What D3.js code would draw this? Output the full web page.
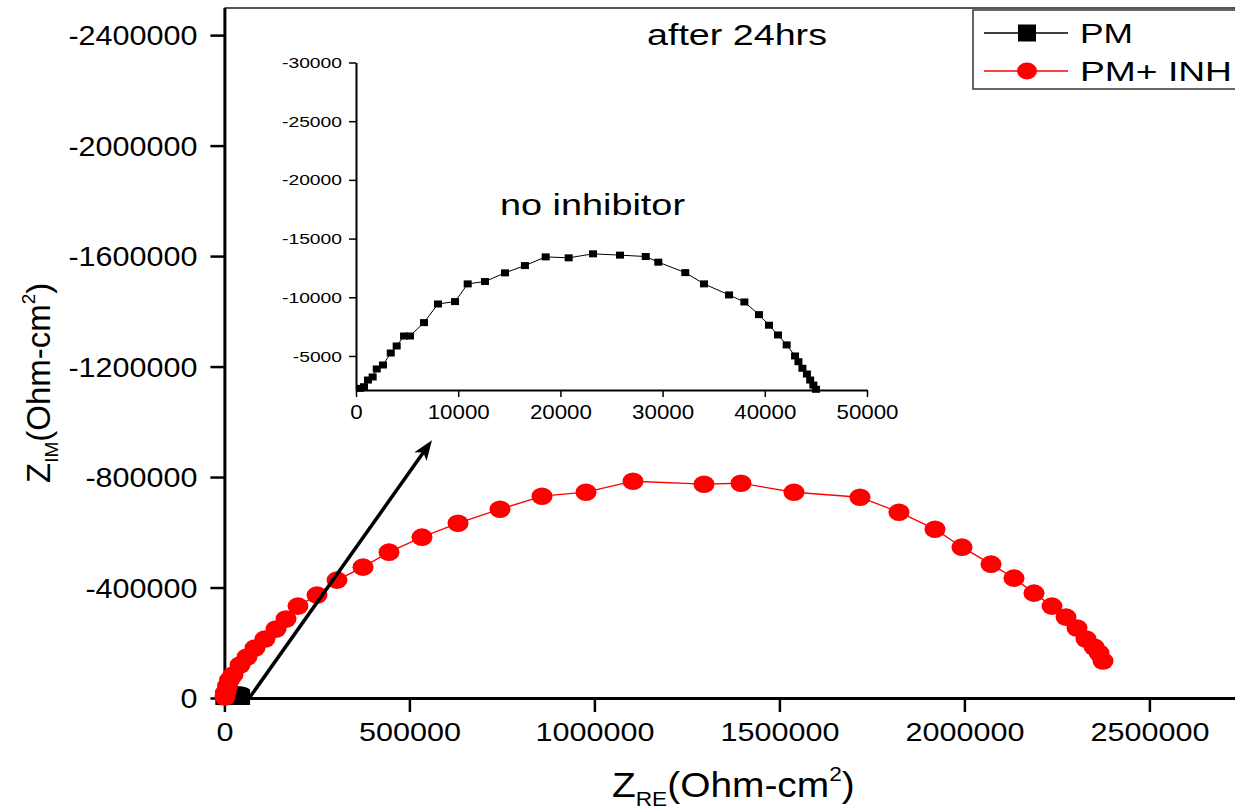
<!DOCTYPE html>
<html>
<head>
<meta charset="utf-8">
<script src="https://cdn.jsdelivr.net/npm/d3@7"></script>
<style>
  body { margin: 0; background: #fff; }
  svg { display: block; font-family: "Liberation Sans", Arial, sans-serif; }
</style>
</head>
<body>
<script>
// PM + INH (red circles, main plot)
const inhZre = [1600, 4300, 8400, 13800, 23200, 42200, 61100, 82700, 109700, 139500,
  166500, 198900, 250300, 304300, 374600, 444900, 534000, 631400, 744900, 858400,
  977300, 1104300, 1296200, 1396200, 1539400, 1717800, 1823200, 1920500, 1993500, 2071900,
  2134000, 2188100, 2236700, 2274600, 2304300, 2328600, 2350300, 2363800, 2374600];
const inhZim = [-3600, -21700, -43400, -65100, -83200, -119300, -148300, -180800, -213400, -249500,
  -285700, -332700, -372500, -426800, -473800, -528000, -582300, -632900, -683500, -730600,
  -745000, -784800, -774000, -777600, -745000, -726900, -672700, -611200, -546100, -484600,
  -434000, -379700, -332700, -292900, -253200, -213400, -184400, -162700, -133800];

// PM, no inhibitor (black squares, inset + tiny cluster at origin)
const pmZre = [390, 780, 1170, 1630, 2030, 2640, 3400, 3980, 4700, 5280,
  6650, 8020, 9690, 10930, 12620, 14580, 16530, 18560, 20810, 23190,
  25830, 28350, 29580, 32220, 34050, 36500, 38000, 39430, 40410, 41290,
  42140, 42960, 43290, 43680, 44120, 44440, 44750, 45010];
const pmZim = [-2240, -2380, -2950, -3210, -3890, -4230, -5250, -5850, -6700, -6700,
  -7840, -9430, -9630, -11140, -11340, -12080, -12700, -13440, -13360, -13700,
  -13590, -13470, -12990, -12100, -11140, -10200, -9600, -8520, -7620, -6790,
  -5940, -5000, -4510, -3950, -3460, -2950, -2520, -2160];

const mainXTicks = [0, 500000, 1000000, 1500000, 2000000, 2500000];
const mainYTicks = [0, -400000, -800000, -1200000, -1600000, -2000000, -2400000];
const insetXTicks = [0, 10000, 20000, 30000, 40000, 50000];
const insetYTicks = [-5000, -10000, -15000, -20000, -25000, -30000];
const seriesNames = ["PM", "PM+ INH"];
const arrowFrom = [69200, -3600];
const arrowTo = [561100, -933100];

const width = 1235, height = 810;

const svg = d3.select("body").append("svg")
  .attr("width", width)
  .attr("height", height);

// main scales
const x = d3.scaleLinear().domain([0, 2750000]).range([224.4, 1241.9]);
const y = d3.scaleLinear().domain([0, -2500000]).range([698, 7.5]);

// inset scales
const ix = d3.scaleLinear().domain([0, 50000]).range([356, 867]);
const iy = d3.scaleLinear().domain([-2100, -30000]).range([390, 62.5]);

const fmt = d => String(d);

// helper: stretch a text to a width based on its characters
function stretch(sel, digitW, minusW) {
  sel.each(function() {
    const t = this.textContent;
    let w = 0;
    for (const c of t) w += (c === "-") ? minusW : digitW;
    d3.select(this).attr("textLength", w).attr("lengthAdjust", "spacingAndGlyphs");
  });
}

// frame top line
svg.append("line")
  .attr("x1", x.range()[0]).attr("x2", x.range()[1])
  .attr("y1", 8).attr("y2", 8)
  .attr("stroke", "#555").attr("stroke-width", 2);

// ---- main axes
const gx = svg.append("g").attr("transform", "translate(0,698)");
gx.call(d3.axisBottom(x).tickValues(d3.range(0, 2750001, 250000)).tickSize(7).tickSizeOuter(0).tickFormat(""));
gx.call(d3.axisBottom(x).tickValues(mainXTicks).tickSize(14).tickSizeOuter(0).tickFormat(fmt));
gx.selectAll("path.domain").attr("stroke-width", 3);
gx.selectAll("line").attr("stroke-width", 2.5);
gx.selectAll("text")
  .attr("font-family", "Liberation Sans, Arial, sans-serif")
  .attr("font-size", 25).attr("fill", "#000")
  .attr("y", 43).attr("dy", 0)
  .call(stretch, 17, 10);

const gy = svg.append("g").attr("transform", "translate(224.4,0)");
gy.call(d3.axisLeft(y).tickValues(d3.range(0, -2500001, -200000)).tickSize(7).tickSizeOuter(0).tickFormat(""));
gy.call(d3.axisLeft(y).tickValues(mainYTicks).tickSize(14).tickSizeOuter(0).tickFormat(fmt));
gy.selectAll("path.domain").attr("stroke-width", 3);
gy.selectAll("line").attr("stroke-width", 2.5);
gy.selectAll("text")
  .attr("font-family", "Liberation Sans, Arial, sans-serif")
  .attr("font-size", 27).attr("fill", "#000")
  .attr("x", -27).attr("dy", "0.36em")
  .call(stretch, 17, 10);

// ---- axis titles
const xt = svg.append("text")
  .attr("transform", "translate(612,797) scale(1.08,1)")
  .attr("font-size", 36).attr("fill", "#000");
xt.append("tspan").text("Z");
xt.append("tspan").attr("font-size", 21).attr("dy", 9).text("RE");
xt.append("tspan").attr("dy", -9).text("(Ohm-cm");
xt.append("tspan").attr("font-size", 21).attr("dy", -16).text("2");
xt.append("tspan").attr("dy", 16).text(")");

const yt = svg.append("text")
  .attr("transform", "translate(50,483) rotate(-90)")
  .attr("font-size", 33).attr("fill", "#000");
yt.append("tspan").text("Z");
yt.append("tspan").attr("font-size", 19).attr("dy", 8).text("IM");
yt.append("tspan").attr("dy", -8).text("(Ohm-cm");
yt.append("tspan").attr("font-size", 19).attr("dy", -15).text("2");
yt.append("tspan").attr("dy", 15).text(")");

// ---- main series
const pmPts = pmZre.map((v, i) => [v, pmZim[i]]);
const inhPts = inhZre.map((v, i) => [v, inhZim[i]]);

const line = d3.line().x(d => x(d[0])).y(d => y(d[1]));

svg.append("path").datum(pmPts)
  .attr("d", line).attr("fill", "none").attr("stroke", "#000").attr("stroke-width", 1);
svg.append("g").selectAll("rect").data(pmPts).join("rect")
  .attr("x", d => x(d[0]) - 9).attr("y", d => y(d[1]) - 7.5)
  .attr("width", 18).attr("height", 15).attr("fill", "#000");

svg.append("path").datum(inhPts)
  .attr("d", line).attr("fill", "none").attr("stroke", "#f00").attr("stroke-width", 1.3);
svg.append("g").selectAll("ellipse").data(inhPts).join("ellipse")
  .attr("cx", d => x(d[0])).attr("cy", d => y(d[1]))
  .attr("rx", 10.5).attr("ry", 8.8).attr("fill", "#f00");

// ---- arrow
{
  const x1 = x(arrowFrom[0]), y1 = y(arrowFrom[1]);
  const x2 = x(arrowTo[0]), y2 = y(arrowTo[1]);
  const ang = Math.atan2(y2 - y1, x2 - x1);
  const L = 20, W = 7.5;
  svg.append("line")
    .attr("x1", x1).attr("y1", y1)
    .attr("x2", x2 - Math.cos(ang) * 12).attr("y2", y2 - Math.sin(ang) * 12)
    .attr("stroke", "#000").attr("stroke-width", 3.5);
  const bx = x2 - Math.cos(ang) * L, by = y2 - Math.sin(ang) * L;
  const nx = -Math.sin(ang), ny = Math.cos(ang);
  const nbx = x2 - Math.cos(ang) * (L - 5), nby = y2 - Math.sin(ang) * (L - 5);
  svg.append("path")
    .attr("d", `M${x2},${y2}L${bx + nx * W},${by + ny * W}L${nbx},${nby}L${bx - nx * W},${by - ny * W}Z`)
    .attr("fill", "#000");
}

// ---- inset
const igx = svg.append("g").attr("transform", "translate(0,390)");
igx.call(d3.axisBottom(ix).tickValues(d3.range(0, 50001, 5000)).tickSize(4).tickSizeOuter(0).tickFormat(""));
igx.call(d3.axisBottom(ix).tickValues(insetXTicks).tickSize(7).tickSizeOuter(0).tickFormat(fmt));
igx.selectAll("path.domain").attr("stroke-width", 2);
igx.selectAll("line").attr("stroke-width", 1.5);
igx.selectAll("text")
  .attr("font-family", "Liberation Sans, Arial, sans-serif")
  .attr("font-size", 21).attr("fill", "#000")
  .attr("y", 29).attr("dy", 0)
  .call(stretch, 12.4, 7);

const igy = svg.append("g").attr("transform", "translate(356,0)");
igy.call(d3.axisLeft(iy).tickValues(d3.range(-2500, -30001, -2500)).tickSize(4).tickSizeOuter(0).tickFormat(""));
igy.call(d3.axisLeft(iy).tickValues(insetYTicks).tickSize(7).tickSizeOuter(0).tickFormat(fmt));
igy.selectAll("path.domain").attr("stroke-width", 2);
igy.selectAll("line").attr("stroke-width", 1.5);
igy.selectAll("text")
  .attr("font-family", "Liberation Sans, Arial, sans-serif")
  .attr("font-size", 14).attr("fill", "#000")
  .attr("x", -14).attr("dy", "0.36em")
  .call(stretch, 10.8, 6);

const iline = d3.line().x(d => ix(d[0])).y(d => iy(d[1]));
svg.append("path").datum(pmPts)
  .attr("d", iline).attr("fill", "none").attr("stroke", "#000").attr("stroke-width", 1);
svg.append("g").selectAll("rect").data(pmPts).join("rect")
  .attr("x", d => ix(d[0]) - 4).attr("y", d => iy(d[1]) - 3.5)
  .attr("width", 8).attr("height", 7).attr("fill", "#000");

// ---- annotations
svg.append("text").attr("x", 647).attr("y", 45)
  .attr("font-size", 30).attr("textLength", 180).attr("lengthAdjust", "spacingAndGlyphs")
  .text("after 24hrs");
svg.append("text").attr("x", 500).attr("y", 215)
  .attr("font-size", 30).attr("textLength", 185).attr("lengthAdjust", "spacingAndGlyphs")
  .text("no inhibitor");

// ---- legend
const lg = svg.append("g");
lg.append("rect").attr("x", 973).attr("y", 10).attr("width", 300).attr("height", 79)
  .attr("fill", "#fff").attr("stroke", "#333").attr("stroke-width", 1.5);
const legendRows = [
  { name: seriesNames[0], color: "#000", y: 33, shape: "square", tw: 53 },
  { name: seriesNames[1], color: "#f00", y: 71, shape: "circle", tw: 152 }
];
legendRows.forEach(r => {
  lg.append("line").attr("x1", 984).attr("x2", 1068).attr("y1", r.y).attr("y2", r.y)
    .attr("stroke", r.color).attr("stroke-width", 1.3);
  if (r.shape === "square") {
    lg.append("rect").attr("x", 1018).attr("y", r.y - 8.5).attr("width", 18).attr("height", 17).attr("fill", r.color);
  } else {
    lg.append("ellipse").attr("cx", 1027).attr("cy", r.y).attr("rx", 10).attr("ry", 8.5).attr("fill", r.color);
  }
  lg.append("text").attr("x", 1080).attr("y", r.y + 10)
    .attr("font-size", 28).attr("textLength", r.tw).attr("lengthAdjust", "spacingAndGlyphs")
    .text(r.name);
});
</script>
</body>
</html>
